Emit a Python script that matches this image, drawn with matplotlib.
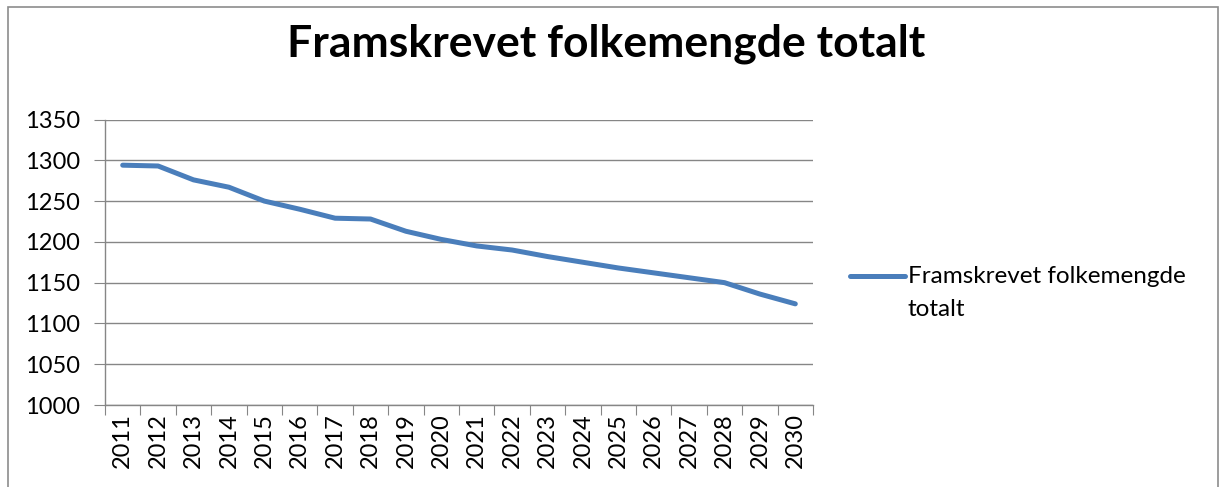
import matplotlib.pyplot as plt
from matplotlib.patches import Rectangle
from matplotlib.legend_handler import HandlerLine2D

# --- Data ---
years = [str(y) for y in range(2011, 2031)]
population = [1294, 1293, 1276, 1267, 1250, 1240, 1229, 1228, 1213, 1203,
              1195, 1190, 1182, 1175, 1168, 1162, 1156, 1150, 1136, 1124]
y_ticks = [1000, 1050, 1100, 1150, 1200, 1250, 1300, 1350]
series_label = "Framskrevet folkemengde\ntotalt"
title = "Framskrevet folkemengde totalt"

plt.rcParams['font.family'] = ['Lato', 'DejaVu Sans']


class FirstLineHandler(HandlerLine2D):
    # keep the legend line level with the first text line (Excel style)
    def create_artists(self, legend, orig_handle, xdescent, ydescent,
                       width, height, fontsize, trans):
        return super().create_artists(legend, orig_handle, xdescent,
                                      ydescent - 25, width, height,
                                      fontsize, trans)


fig = plt.figure(figsize=(12.24, 4.87), dpi=100)
ax = fig.add_axes([105 / 1224, 1 - 405 / 487, 708 / 1224, 285.5 / 487])

# outer chart border
fig.patches.append(Rectangle((8 / 1224, -0.05), 1210 / 1224, 1.05 - 7 / 487,
                             transform=fig.transFigure, fill=False,
                             edgecolor='#8c8c8c', linewidth=1.2))

x = range(len(years))
line, = ax.plot(x, population, color='#4a7ebb', linewidth=3.6,
                solid_capstyle='round', label=series_label)

ax.set_xlim(-0.5, len(years) - 0.5)
ax.set_ylim(1000, 1350)
ax.set_yticks(y_ticks)
ax.set_xticks([i - 0.5 for i in range(len(years) + 1)], minor=False)
ax.set_xticklabels([])
ax.set_xticks(list(x), minor=True)
ax.set_xticklabels(years, minor=True, rotation=90, fontsize=17)
ax.tick_params(axis='x', which='minor', length=0, pad=6)
ax.tick_params(axis='x', which='major', length=7, color='#868686', direction='out')
ax.tick_params(axis='y', length=8, color='#868686', labelsize=17, pad=10)

ax.grid(axis='y', color='#868686', linewidth=1)
ax.set_axisbelow(True)
for side in ('top', 'right'):
    ax.spines[side].set_visible(False)
for side in ('left', 'bottom'):
    ax.spines[side].set_color('#868686')
    ax.spines[side].set_linewidth(1)

fig.text(606 / 1224, 1 - 44 / 487, title, ha='center', va='center',
         fontsize=32, fontweight='bold')

leg = ax.legend(loc='upper left', bbox_to_anchor=(850 / 1224, 1 - 266 / 487),
                bbox_transform=fig.transFigure, frameon=False, fontsize=17.5,
                handlelength=2.25, handletextpad=0.12, borderaxespad=0,
                borderpad=0, handler_map={line: FirstLineHandler()})
for t in leg.get_texts():
    t.set_linespacing(1.7)

fig.savefig('out.png', dpi=100)
